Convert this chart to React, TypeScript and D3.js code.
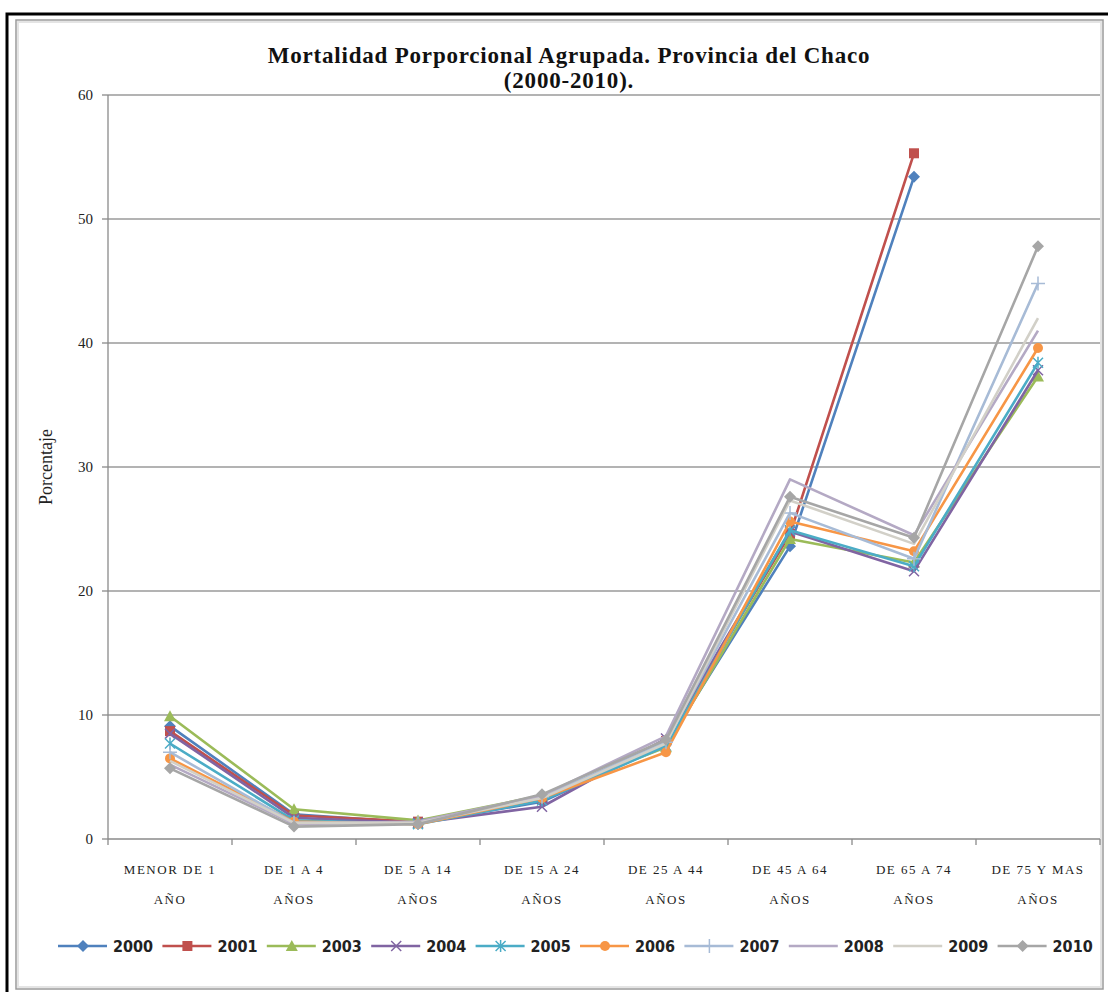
import React from "react";
import * as d3 from "d3";

const categories = [
  ["MENOR DE 1", "AÑO"],
  ["DE 1 A 4", "AÑOS"],
  ["DE 5 A 14", "AÑOS"],
  ["DE 15 A 24", "AÑOS"],
  ["DE 25 A 44", "AÑOS"],
  ["DE 45 A 64", "AÑOS"],
  ["DE 65 A 74", "AÑOS"],
  ["DE 75 Y MAS", "AÑOS"],
];

const yTicks = [0, 10, 20, 30, 40, 50, 60];

const s2000 = [9.1, 2.0, 1.3, 3.0, 7.6, 23.6, 53.4, null];
const s2001 = [8.7, 1.9, 1.4, 3.2, 7.9, 24.6, 55.3, null];
const s2003 = [9.9, 2.4, 1.5, 3.5, 7.4, 24.2, 22.3, 37.3];
const s2004 = [8.5, 1.7, 1.3, 2.6, 8.1, 24.8, 21.6, 37.8];
const s2005 = [7.7, 1.5, 1.2, 3.1, 7.5, 24.9, 22.0, 38.4];
const s2006 = [6.5, 1.4, 1.2, 3.3, 7.0, 25.6, 23.2, 39.6];
const s2007 = [7.0, 1.3, 1.3, 3.4, 7.8, 26.3, 22.6, 44.8];
const s2008 = [6.0, 1.2, 1.4, 3.5, 8.3, 29.0, 24.5, 41.0];
const s2009 = [6.3, 1.3, 1.3, 3.3, 7.7, 27.3, 23.8, 42.0];
const s2010 = [5.7, 1.0, 1.2, 3.6, 8.0, 27.6, 24.3, 47.8];

const series = [
  { name: "2000", values: s2000, color: "#4F81BD", marker: "diamond" },
  { name: "2001", values: s2001, color: "#C0504D", marker: "square" },
  { name: "2003", values: s2003, color: "#9BBB59", marker: "triangle" },
  { name: "2004", values: s2004, color: "#8064A2", marker: "x" },
  { name: "2005", values: s2005, color: "#4BACC6", marker: "star" },
  { name: "2006", values: s2006, color: "#F79646", marker: "circle" },
  { name: "2007", values: s2007, color: "#A7BBD6", marker: "plus" },
  { name: "2008", values: s2008, color: "#B4A9C4", marker: "none" },
  { name: "2009", values: s2009, color: "#D2D0C8", marker: "none" },
  { name: "2010", values: s2010, color: "#A6A6A6", marker: "diamond" },
];

function Marker({ type, x, y, color }: { type: string; x: number; y: number; color: string }) {
  const s = 5;
  switch (type) {
    case "diamond":
      return <path d={`M${x},${y - s - 1}L${x + s + 1},${y}L${x},${y + s + 1}L${x - s - 1},${y}Z`} fill={color} />;
    case "square":
      return <rect x={x - s} y={y - s} width={2 * s} height={2 * s} fill={color} />;
    case "triangle":
      return <path d={`M${x},${y - s - 1}L${x + s + 1},${y + s}L${x - s - 1},${y + s}Z`} fill={color} />;
    case "x":
      return (
        <path d={`M${x - s},${y - s}L${x + s},${y + s}M${x - s},${y + s}L${x + s},${y - s}`} stroke={color} strokeWidth={1.5} />
      );
    case "star":
      return (
        <path
          d={`M${x - s},${y - s}L${x + s},${y + s}M${x - s},${y + s}L${x + s},${y - s}M${x},${y - s - 1}L${x},${y + s + 1}`}
          stroke={color}
          strokeWidth={1.5}
        />
      );
    case "circle":
      return <circle cx={x} cy={y} r={s} fill={color} />;
    case "plus":
      return <path d={`M${x - s - 2},${y}L${x + s + 2},${y}M${x},${y - s - 2}L${x},${y + s + 2}`} stroke={color} strokeWidth={1.5} />;
    default:
      return null;
  }
}

export default function App() {
  const W = 1108;
  const H = 992;
  const left = 108;
  const right = 1100;
  const top = 95;
  const bottom = 839;

  const x = d3
    .scaleBand<number>()
    .domain(categories.map((_, i) => i))
    .range([left, right]);
  const y = d3.scaleLinear().domain([0, 60]).range([bottom, top]);
  const cx = (i: number) => (x(i) as number) + x.bandwidth() / 2;

  const line = d3
    .line<number | null>()
    .defined((d) => d !== null)
    .x((_, i) => cx(i))
    .y((d) => y(d as number));

  const serif = "'Liberation Serif', 'DejaVu Serif', serif";
  const legendFont = "'Liberation Sans Narrow', 'DejaVu Sans Condensed', 'Liberation Sans', sans-serif";

  return (
    <svg width={W} height={H} style={{ position: "absolute", left: 0, top: 0 }}>
      <rect x={0} y={0} width={W} height={H} fill="#fff" />
      {/* outer frame */}
      <rect x={7} y={14} width={W + 10} height={H} fill="none" stroke="#000" strokeWidth={3} />
      {/* inner chart area frame */}
      <rect x={16} y={20} width={1087} height={969} fill="none" stroke="#9a9a9a" strokeWidth={1.5} />
      <rect x={18} y={22} width={1083} height={965} fill="none" stroke="#e4e4e4" strokeWidth={2} />

      {/* title */}
      <text x={569} y={63} textAnchor="middle" fontFamily={serif} fontWeight="bold" fontSize={23} letterSpacing={0.8} fill="#111">
        Mortalidad Porporcional Agrupada. Provincia del Chaco
      </text>
      <text x={569} y={88} textAnchor="middle" fontFamily={serif} fontWeight="bold" fontSize={23} letterSpacing={0.8} fill="#111">
        (2000-2010).
      </text>

      {/* gridlines */}
      {yTicks.map((t) => (
        <g key={t}>
          <line x1={left} x2={right} y1={y(t)} y2={y(t)} stroke={t === 0 ? "#8a8a8a" : "#9a9a9a"} strokeWidth={1.3} />
          <line x1={left - 6} x2={left} y1={y(t)} y2={y(t)} stroke="#8a8a8a" strokeWidth={1.3} />
          <text x={left - 15} y={y(t) + 5} textAnchor="end" fontFamily={serif} fontSize={15} fill="#222">
            {t}
          </text>
        </g>
      ))}
      <line x1={left} x2={left} y1={top} y2={bottom} stroke="#8a8a8a" strokeWidth={1.3} />
      {d3.range(categories.length + 1).map((i) => {
        const xx = left + i * x.bandwidth();
        return <line key={i} x1={xx} x2={xx} y1={bottom} y2={bottom + 6} stroke="#8a8a8a" strokeWidth={1.3} />;
      })}

      {/* y label */}
      <text
        transform={`translate(52, ${(top + bottom) / 2}) rotate(-90)`}
        textAnchor="middle"
        fontFamily={serif}
        fontSize={18}
        fill="#222"
      >
        Porcentaje
      </text>

      {/* x labels */}
      {categories.map((c, i) => (
        <g key={i}>
          <text x={cx(i)} y={874} textAnchor="middle" fontFamily={serif} fontSize={13} letterSpacing={1.5} fill="#222">
            {c[0]}
          </text>
          <text x={cx(i)} y={904} textAnchor="middle" fontFamily={serif} fontSize={13} letterSpacing={1.5} fill="#222">
            {c[1]}
          </text>
        </g>
      ))}

      {/* series */}
      {series.map((s) => (
        <g key={s.name}>
          <path d={line(s.values) || ""} fill="none" stroke={s.color} strokeWidth={2.6} strokeLinejoin="round" />
          {s.values.map((v, i) =>
            v === null ? null : <Marker key={i} type={s.marker} x={cx(i)} y={y(v)} color={s.color} />
          )}
        </g>
      ))}

      {/* legend */}
      {series.map((s, i) => {
        const lx = 113 + i * 104.4;
        const ly = 946;
        return (
          <g key={s.name}>
            <line x1={lx - 55} x2={lx - 6} y1={ly} y2={ly} stroke={s.color} strokeWidth={2.6} />
            <Marker type={s.marker} x={lx - 30} y={ly} color={s.color} />
            <text x={lx} y={ly + 6} fontFamily={legendFont} fontWeight="bold" fontSize={16} fill="#222">
              {s.name}
            </text>
          </g>
        );
      })}
    </svg>
  );
}
